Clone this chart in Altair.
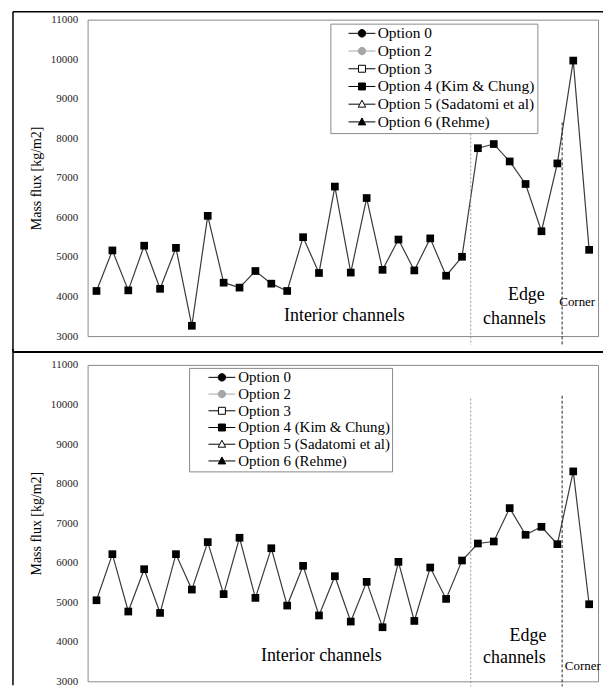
import altair as alt
import pandas as pd

# ---------------- data ----------------
OPTIONS = ["Option 0", "Option 2", "Option 3", "Option 4 (Kim & Chung)",
           "Option 5 (Sadatomi et al)", "Option 6 (Rehme)"]
CHANNEL_POS = list(range(32))  # subchannel index along the x axis

TOP_FLUX = [4140, 5165, 4155, 5285, 4195, 5230, 3260, 6040, 4350, 4225, 4645, 4325,
            4140, 5500, 4595, 6780, 4605, 6490, 4675, 5440, 4660, 5470, 4525, 5005,
            7750, 7855, 7415, 6845, 5650, 7365, 9965, 5180]
BOTTOM_FLUX = [5050, 6215, 4765, 5835, 4730, 6215, 5320, 6520, 5205, 6630, 5110, 6365,
               4915, 5920, 4665, 5658, 4511, 5515, 4367, 6021, 4527, 5878, 5084, 6055,
               6485, 6536, 7380, 6705, 6907, 6468, 8308, 4949]

REGION_LABELS = ["Interior channels", "Edge", "channels", "Corner"]
TOP_LABEL_X = [15.6, 27.05, 26.3, 30.25]
TOP_LABEL_Y = [3500, 4030, 3430, 3855]
BOT_LABEL_X = [14.15, 27.15, 26.3, 30.6]
BOT_LABEL_Y = [3640, 4145, 3590, 3390]

DIVIDER_X = [23.55, 29.3]
TOP_DIVIDER_Y = [8120, 8400]
TOP_DIVIDER_Y2 = [2775, 2775]
BOT_DIVIDER_Y = [10150, 10220]
BOT_DIVIDER_Y2 = [2870, 2870]

Y_TICKS = [3000, 4000, 5000, 6000, 7000, 8000, 9000, 10000, 11000]

# ---------------- styles ----------------
SERIF = "Liberation Serif"
FRAME = "#898989"
SHAPE_PATHS = [
    "M-2.7,0H-0.75M0.75,0H2.7M-0.75,0A0.75,0.75,0,1,1,0.75,0A0.75,0.75,0,1,1,-0.75,0Z",
    "M-2.7,0H-0.75M0.75,0H2.7M-0.75,0A0.75,0.75,0,1,1,0.75,0A0.75,0.75,0,1,1,-0.75,0Z",
    "M-2.7,0H-0.7M0.7,0H2.7M-0.7,-0.7H0.7V0.7H-0.7Z",
    "M-2.7,0H-0.7M0.7,0H2.7M-0.7,-0.7H0.7V0.7H-0.7Z",
    "M-2.7,0H-0.45M0.45,0H2.7M0,-0.8L0.75,0.6L-0.75,0.6Z",
    "M-2.7,0H-0.45M0.45,0H2.7M0,-0.8L0.75,0.6L-0.75,0.6Z",
]
FILLS = ["black", "#a6a6a6", "white", "black", "white", "black"]
STROKES = ["black", "#a6a6a6", "black", "black", "black", "black"]


def panel(flux, lab_x, lab_y, div_y, div_y2, lx, ly, lfs, rowpad, symoff, laboff, frame_rules):
    pts = pd.DataFrame({"channel": CHANNEL_POS, "flux": flux})
    long = pd.DataFrame(
        [(o, c, f) for o in OPTIONS for c, f in zip(CHANNEL_POS, flux)],
        columns=["option", "channel", "flux"],
    )
    xs = alt.Scale(domain=[-0.56, 31.56], nice=False, zero=False)
    ys = alt.Scale(domain=[3000, 11000], nice=False, zero=False)
    yaxis = alt.Axis(values=Y_TICKS, format="d", title="Mass flux [kg/m2]",
                     labelOverlap=False, tickCount=9)
    X = alt.X("channel:Q", scale=xs, axis=None)
    Y = alt.Y("flux:Q", scale=ys, axis=yaxis)

    leg = alt.Legend(
        title=None, orient="none", legendX=lx, legendY=ly, padding=2,
        fillColor="white", strokeColor=FRAME,
        labelFont=SERIF, labelFontSize=lfs, labelColor="black", labelLimit=400,
        symbolSize=100, symbolStrokeWidth=1, symbolOpacity=1,
        symbolOffset=symoff, labelOffset=laboff, rowPadding=rowpad,
    )
    legend_layer = alt.Chart(long).mark_point(opacity=0).encode(
        x=X, y=Y,
        shape=alt.Shape("option:N", scale=alt.Scale(domain=OPTIONS, range=SHAPE_PATHS), legend=leg),
        fill=alt.Fill("option:N", scale=alt.Scale(domain=OPTIONS, range=FILLS), legend=leg),
        stroke=alt.Stroke("option:N", scale=alt.Scale(domain=OPTIONS, range=STROKES), legend=leg),
    )
    line = alt.Chart(pts).mark_line(color="#3a3a3a", strokeWidth=1.2).encode(x=X, y=Y)
    squares = alt.Chart(pts).mark_point(shape="square", filled=True, size=60,
                                         color="black", opacity=1).encode(x=X, y=Y)

    div = pd.DataFrame({"x": DIVIDER_X, "y": div_y, "y2": div_y2})
    DX = alt.X("x:Q", scale=xs, axis=None)
    DY = alt.Y("y:Q", scale=ys, axis=yaxis, title="Mass flux [kg/m2]")
    rule1 = alt.Chart(div.iloc[[0]]).mark_rule(color="#9a9a9a", strokeWidth=1,
                                                strokeDash=[2, 2]).encode(x=DX, y=DY, y2="y2:Q")
    rule2 = alt.Chart(div.iloc[[1]]).mark_rule(color="#222222", strokeWidth=1,
                                                strokeDash=[3, 2]).encode(x=DX, y=DY, y2="y2:Q")

    labels = pd.DataFrame({"text": REGION_LABELS, "x": lab_x, "y": lab_y})
    big_text = alt.Chart(labels.iloc[:3]).mark_text(font=SERIF, fontSize=18, color="black",
                                                     align="center", baseline="middle").encode(
        x=DX, y=DY, text="text:N")
    small_text = alt.Chart(labels.iloc[3:]).mark_text(font=SERIF, fontSize=13, color="black",
                                                       align="center", baseline="middle").encode(
        x=DX, y=DY, text="text:N")

    layers = [line, legend_layer, squares, rule1, rule2, big_text, small_text] + frame_rules
    return alt.layer(*layers).properties(width=513, height=318)


one = pd.DataFrame({"k": [0]})


def hrule(x1, x2, y, w):
    return alt.Chart(one).mark_rule(color="black", strokeWidth=w).encode(
        x=alt.value(x1), x2=alt.value(x2), y=alt.value(y))


def vrule(x, y1, y2, w):
    return alt.Chart(one).mark_rule(color="black", strokeWidth=w).encode(
        x=alt.value(x), y=alt.value(y1), y2=alt.value(y2))


top_frame = [hrule(-75, 518, -8, 1.5), vrule(-75, -8, 334, 1.5), hrule(-75, 518, 334, 2)]
bot_frame = [vrule(-75, -16, 322, 1.5)]

p1 = panel(TOP_FLUX, TOP_LABEL_X, TOP_LABEL_Y, TOP_DIVIDER_Y, TOP_DIVIDER_Y2,
           244, 4, 15.5, 0.8, 22, 8, top_frame)
p2 = panel(BOTTOM_FLUX, BOT_LABEL_X, BOT_LABEL_Y, BOT_DIVIDER_Y, BOT_DIVIDER_Y2,
           102, 3, 15, 0.8, 23.5, 9, bot_frame)

chart = (
    alt.vconcat(p1, p2, spacing=29, bounds="flush")
    .resolve_scale(shape="independent", fill="independent", stroke="independent")
    .properties(padding={"left": 3, "top": 0, "right": 0, "bottom": 0}, background="white")
    .configure_view(stroke=FRAME, strokeWidth=1)
    .configure_axis(grid=False, domain=False, ticks=False, labelPadding=10,
                    labelOverlap=False,
                    labelFont=SERIF, labelFontSize=11, labelColor="#222222",
                    titleFont=SERIF, titleFontSize=14, titleFontWeight="normal",
                    titleColor="black", titlePadding=7)
)

chart.save("out.html", embed_options={"renderer": "svg", "actions": False})
